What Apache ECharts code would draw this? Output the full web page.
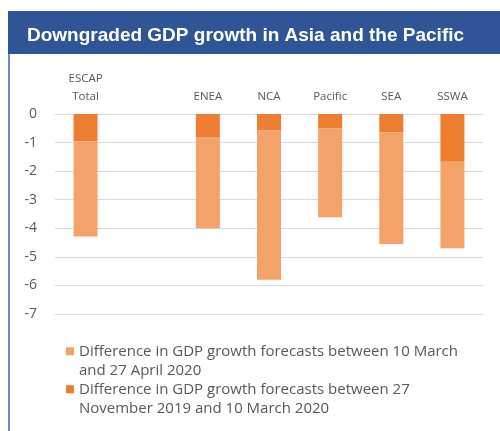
<!DOCTYPE html>
<html>
<head>
<meta charset="utf-8">
<script src="https://cdn.jsdelivr.net/npm/echarts@6/dist/echarts.min.js"></script>
<style>
  html, body { margin: 0; padding: 0; background: #fff; }
  #chart { width: 500px; height: 431px; }
</style>
</head>
<body>
<div id="chart"></div>
<script>
// categories (empty slot keeps the gap after ESCAP Total)
let categories = ['ESCAP\nTotal', '', 'ENEA', 'NCA', 'Pacific', 'SEA', 'SSWA']
// 27 Nov 2019 -> 10 Mar 2020
let earlyDiff = [-0.95, null, -0.83, -0.58, -0.5, -0.64, -1.67]
// 10 Mar -> 27 Apr 2020
let lateDiff = [-3.34, null, -3.17, -5.22, -3.11, -3.91, -3.03]
let yTicks = { min: -7, max: 0, step: 1 }

let seriesNames = [
    'Difference in GDP growth forecasts between 10 March\nand 27 April 2020',
    'Difference in GDP growth forecasts between 27\nNovember 2019 and 10 March 2020'
]
let colors = ['#F3A26A', '#ED7D31']

// one legend per item so the square sits on the first text line
let legendText = {
    color: '#595959',
    fontFamily: 'Open Sans',
    fontSize: 15,
    lineHeight: 19.5
}
let makeLegend = (name, top) => ({
    orient: 'vertical',
    left: 61,
    top: top,
    itemWidth: 8,
    itemHeight: 8,
    itemGap: 0,
    icon: 'rect',
    data: [name],
    // blank first line -> the real first line is centred on the icon
    formatter: (n) => ' \n' + n,
    textStyle: legendText
})

let myChart = echarts.init(document.getElementById('chart'))
let option = {
    animation: false,
    title: {
        text: 'Downgraded GDP growth in Asia and the Pacific',
        left: 22,
        top: 21,
        textStyle: {
            color: '#fff',
            fontFamily: 'Liberation Sans',
            fontWeight: 'bold',
            fontSize: 19
        }
    },
    graphic: [
        {
            type: 'rect',
            z: -1,
            shape: { x: 8, y: 11, width: 492, height: 43 },
            style: { fill: '#2F5597' }
        },
        {
            type: 'rect',
            z: -1,
            shape: { x: 8, y: 54, width: 2, height: 377 },
            style: { fill: '#6A8BCB' }
        }
    ],
    legend: [
        makeLegend(seriesNames[0], 317),
        makeLegend(seriesNames[1], 355)
    ],
    grid: {
        left: 55,
        right: 17,
        top: 114,
        bottom: 117
    },
    xAxis: {
        type: 'category',
        position: 'top',
        data: categories,
        axisLine: { show: false },
        axisTick: { show: false },
        axisLabel: {
            color: '#595959',
            fontFamily: 'Open Sans',
            fontSize: 11.5,
            lineHeight: 18,
            margin: 8,
            interval: 0
        }
    },
    yAxis: {
        type: 'value',
        min: yTicks.min,
        max: yTicks.max,
        interval: yTicks.step,
        axisLine: { show: false },
        axisTick: { show: false },
        splitLine: { lineStyle: { color: '#D9D9D9', width: 1 } },
        axisLabel: {
            color: '#595959',
            fontFamily: 'Open Sans',
            fontSize: 14,
            margin: 18
        }
    },
    series: [
        {
            name: seriesNames[1],
            type: 'bar',
            stack: 'diff',
            data: earlyDiff,
            barWidth: 24,
            itemStyle: { color: colors[1] }
        },
        {
            name: seriesNames[0],
            type: 'bar',
            stack: 'diff',
            data: lateDiff,
            barWidth: 24,
            itemStyle: { color: colors[0] }
        }
    ]
}
myChart.setOption(option)
</script>
</body>
</html>
